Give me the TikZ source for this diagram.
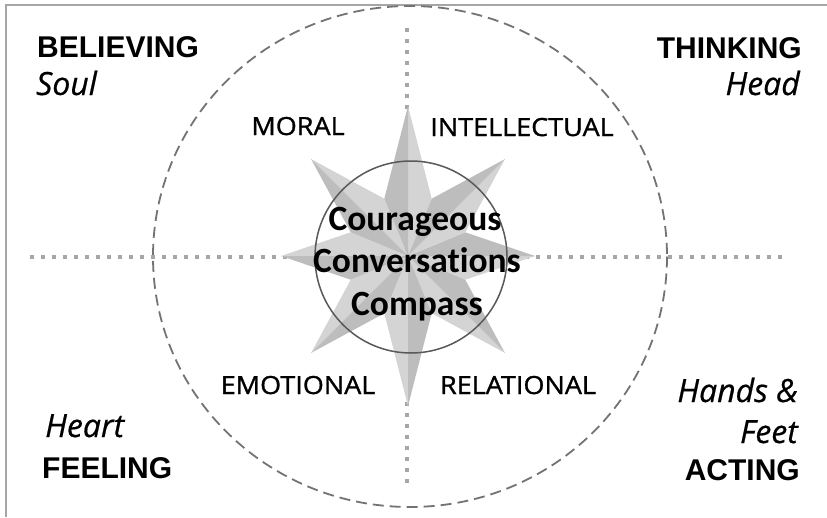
\documentclass[tikz,border=0pt]{standalone}
\usepackage{fontspec}
\setmainfont{Liberation Sans}
\newfontfamily\handfont{Open Sans}[FakeBold=0.6]
\newfontfamily\ringfont{Open Sans}[FakeStretch=1.08, FakeBold=1.2]
\newfontfamily\compassfont{Carlito}[Ligatures={NoCommon}]
\usetikzlibrary{calc}

\begin{document}
\begin{tikzpicture}[
  x=1pt, y=-1pt,
  every node/.style = {inner sep=0pt},
  quarter/.style = {font=\bfseries\fontsize{30}{30}\selectfont},
  body/.style = {font=\handfont\itshape\fontsize{32}{32}\selectfont},
  ring/.style = {font=\ringfont\fontsize{25}{25}\selectfont, anchor=base},
  title/.style = {font=\compassfont\bfseries\fontsize{35.5}{35.5}\selectfont, anchor=base},
  axis/.style = {black!35, line width=3.5pt, dash pattern=on 3.5pt off 7.5pt},
  spike light/.style = {fill=black!17},
  spike dark/.style = {fill=black!26}
  ]
	\useasboundingbox (0,0) rectangle (827,517);
	\fill[white] (0,0) rectangle (827,517);

	% frame (top and left edges only)
	\draw[black!35, line width=2pt] (6,517) |- (827,5);

	\coordinate (@c) at (408,256);
	\coordinate (@n) at (407,28);
	\coordinate (@s) at (407,485);
	\coordinate (@w) at (30,257);
	\coordinate (@e) at (782,257);

	\draw[axis] (@w) -- (@e);
	\draw[axis] (@n) -- (@s);

	\draw[black!55, line width=1.8pt, dash pattern=on 11pt off 6pt] (410,256.5) ellipse [x radius=257, y radius=250.5];

	% compass rose
	\foreach \a/\r in {0/127, 45/137, 90/150, 135/137, 180/127, 225/137, 270/150, 315/137} {
		\coordinate (@tip) at ($(@c)+(\a:\r)$);
		\coordinate (@l) at ($(@c)+(\a+22.5:62)$);
		\coordinate (@r) at ($(@c)+(\a-22.5:62)$);
		\fill[spike light] (@c) -- (@tip) -- (@l) -- cycle;
		\fill[spike dark] (@c) -- (@tip) -- (@r) -- cycle;
	}

	\draw[black!65, line width=1.5pt] (411,257) circle (96);

	\node[title] (courageous) at (415,230) {Courageous};
	\node[title] (conversations) at (417,272.5) {Conversations};
	\node[title] (compass) at (417,315) {Compass};

	\node[ring] (moral) at (298,135) {MORAL};
	\node[ring] (intellectual) at (522,136) {INTELLECTUAL};
	\node[ring] (emotional) at (298,394) {EMOTIONAL};
	\node[ring] (relational) at (518,394) {RELATIONAL};

	\node[quarter, anchor=base west] (believing) at (37,57) {BELIEVING};
	\node[body, anchor=base west] (soul) at (36,95) {Soul};
	\node[quarter, anchor=base east] (thinking) at (802,58) {THINKING};
	\node[body, anchor=base east] (head) at (800,95) {Head};

	\node[body, anchor=base west] (heart) at (45,437) {Heart};
	\node[quarter, anchor=base west] (feeling) at (42,478) {FEELING};
	\node[body, anchor=base east] (hands) at (798,402) {Hands \&};
	\node[body, anchor=base east] (feet) at (798,443) {Feet};
	\node[quarter, anchor=base east] (acting) at (800,480) {ACTING};

\end{tikzpicture}
\end{document}
